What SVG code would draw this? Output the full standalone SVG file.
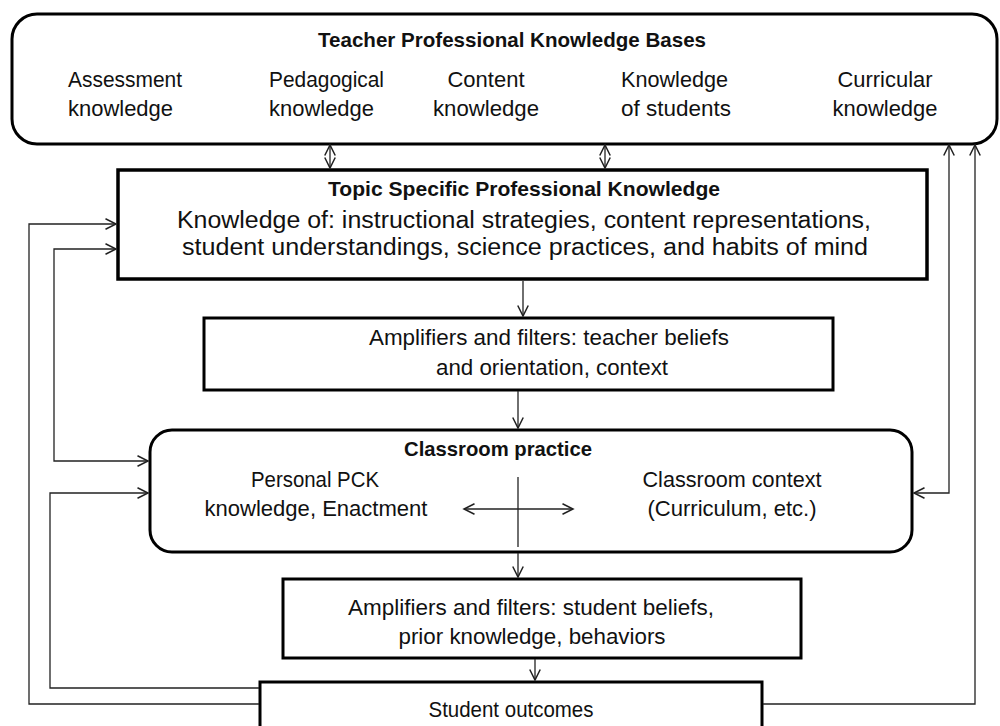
<svg xmlns="http://www.w3.org/2000/svg" width="1000" height="726" viewBox="0 0 1000 726">
<style>
  .box { fill: #fff; stroke: #000; stroke-width: 3; }
  .t { font-family: "Liberation Sans", Arial, sans-serif; font-size: 21.5px; fill: #111; text-anchor: middle; }
  .s { text-anchor: start; }
  .b { font-weight: bold; font-size: 20.5px; }
  .c { fill: none; stroke: #222; stroke-width: 1.3; }
</style>
<defs>
  <marker id="ah" markerUnits="userSpaceOnUse" markerWidth="14" markerHeight="14" refX="10" refY="6" viewBox="0 0 12 12" orient="auto-start-reverse">
    <path d="M1,1.5 L10,6 L1,10.5" fill="none" stroke="#222" stroke-width="1.3"/>
  </marker>
</defs>
<rect width="1000" height="726" fill="#fff"/>

<g id="knowledge-bases">
  <rect class="box" x="12" y="14" width="985" height="130" rx="25"/>
  <text class="t b" x="512" y="47" textLength="388" lengthAdjust="spacingAndGlyphs">Teacher Professional Knowledge Bases</text>
  <text class="t s" x="68" y="87" textLength="114" lengthAdjust="spacingAndGlyphs">Assessment</text>
  <text class="t s" x="68" y="116" textLength="105" lengthAdjust="spacingAndGlyphs">knowledge</text>
  <text class="t s" x="269" y="87" textLength="115" lengthAdjust="spacingAndGlyphs">Pedagogical</text>
  <text class="t s" x="269" y="116" textLength="105" lengthAdjust="spacingAndGlyphs">knowledge</text>
  <text class="t" x="486" y="87" textLength="77" lengthAdjust="spacingAndGlyphs">Content</text>
  <text class="t" x="486" y="116" textLength="106" lengthAdjust="spacingAndGlyphs">knowledge</text>
  <text class="t s" x="621" y="87" textLength="107" lengthAdjust="spacingAndGlyphs">Knowledge</text>
  <text class="t s" x="621" y="116" textLength="110" lengthAdjust="spacingAndGlyphs">of students</text>
  <text class="t" x="885" y="87" textLength="95" lengthAdjust="spacingAndGlyphs">Curricular</text>
  <text class="t" x="885" y="116" textLength="105" lengthAdjust="spacingAndGlyphs">knowledge</text>
</g>

<g id="topic-specific">
  <rect class="box" x="118" y="170" width="809" height="109" style="stroke-width:3.5"/>
  <text class="t b" x="524" y="196" textLength="392" lengthAdjust="spacingAndGlyphs">Topic Specific Professional Knowledge</text>
  <text class="t" x="524" y="228" style="font-size:23px" textLength="694" lengthAdjust="spacingAndGlyphs">Knowledge of: instructional strategies, content representations,</text>
  <text class="t" x="525" y="255" style="font-size:23px" textLength="686" lengthAdjust="spacingAndGlyphs">student understandings, science practices, and habits of mind</text>
</g>

<g id="amplifiers-teacher">
  <rect class="box" x="204" y="318" width="629" height="72"/>
  <text class="t" x="549" y="345" textLength="360" lengthAdjust="spacingAndGlyphs">Amplifiers and filters: teacher beliefs</text>
  <text class="t" x="552" y="375" textLength="232" lengthAdjust="spacingAndGlyphs">and orientation, context</text>
</g>

<g id="classroom-practice">
  <rect class="box" x="150" y="430" width="762" height="122" rx="22"/>
  <text class="t b" x="498" y="456" textLength="188" lengthAdjust="spacingAndGlyphs">Classroom practice</text>
  <text class="t" x="315" y="487" textLength="128" lengthAdjust="spacingAndGlyphs">Personal PCK</text>
  <text class="t" x="316" y="516" textLength="223" lengthAdjust="spacingAndGlyphs">knowledge, Enactment</text>
  <text class="t" x="732" y="487" textLength="179" lengthAdjust="spacingAndGlyphs">Classroom context</text>
  <text class="t" x="732" y="516" textLength="169" lengthAdjust="spacingAndGlyphs">(Curriculum, etc.)</text>
  <line class="c" x1="518" y1="477" x2="518" y2="547"/>
  <line class="c" x1="464" y1="509" x2="573" y2="509" marker-start="url(#ah)" marker-end="url(#ah)"/>
</g>

<g id="amplifiers-student">
  <rect class="box" x="283" y="579" width="518" height="79"/>
  <text class="t" x="531" y="615" textLength="366" lengthAdjust="spacingAndGlyphs">Amplifiers and filters: student beliefs,</text>
  <text class="t" x="532" y="644" textLength="267" lengthAdjust="spacingAndGlyphs">prior knowledge, behaviors</text>
</g>

<g id="student-outcomes">
  <rect class="box" x="260" y="682" width="502" height="60"/>
  <text class="t" x="511" y="717" textLength="165" lengthAdjust="spacingAndGlyphs">Student outcomes</text>
</g>

<g id="connectors">
  <line class="c" x1="330" y1="145" x2="330" y2="168" marker-start="url(#ah)" marker-end="url(#ah)"/>
  <line class="c" x1="605" y1="145" x2="605" y2="168" marker-start="url(#ah)" marker-end="url(#ah)"/>
  <line class="c" x1="523" y1="281" x2="523" y2="316" marker-end="url(#ah)"/>
  <line class="c" x1="518" y1="391" x2="518" y2="428" marker-end="url(#ah)"/>
  <line class="c" x1="518" y1="553" x2="518" y2="577" marker-end="url(#ah)"/>
  <line class="c" x1="535" y1="659" x2="535" y2="680" marker-end="url(#ah)"/>
  <polyline class="c" points="259,704 29,704 29,224 116,224" marker-end="url(#ah)"/>
  <polyline class="c" points="116,249 54,249 54,461 148,461" marker-start="url(#ah)" marker-end="url(#ah)"/>
  <polyline class="c" points="259,688 50,688 50,493 148,493" marker-end="url(#ah)"/>
  <polyline class="c" points="949,145 949,493 914,493" marker-start="url(#ah)" marker-end="url(#ah)"/>
  <polyline class="c" points="763,704 975,704 975,145" marker-end="url(#ah)"/>
</g>
</svg>
